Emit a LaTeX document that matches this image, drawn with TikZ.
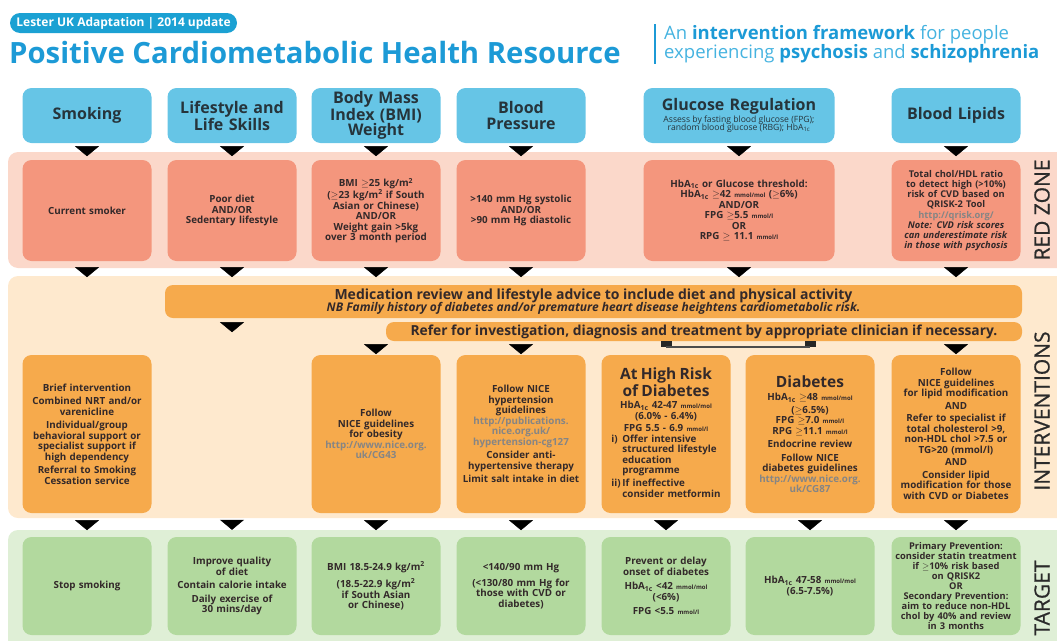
\documentclass[tikz,border=0pt]{standalone}
\usepackage{fontspec}
\setmainfont{Open Sans}
\newfontfamily\zonefont[FakeBold=0.7]{Open Sans}
\usetikzlibrary{arrows.meta,decorations.markings,calc}

\definecolor{titleblue}{HTML}{1C9AD6}
\definecolor{subblue}{HTML}{45B3E0}
\definecolor{badgeblue}{HTML}{1BA1D3}
\definecolor{headblue}{HTML}{66C5E6}
\definecolor{headtext}{HTML}{26343B}
\definecolor{redband}{HTML}{FBD8CA}
\definecolor{redbox}{HTML}{F4967D}
\definecolor{orgband}{HTML}{FEE9CE}
\definecolor{orgbox}{HTML}{F6AA4C}
\definecolor{grnband}{HTML}{DFEFD6}
\definecolor{grnbox}{HTML}{B2D99E}
\definecolor{inktext}{HTML}{33292A}
\definecolor{urlgray}{HTML}{858585}
\definecolor{zonetext}{HTML}{2A2A2A}

\newcommand{\hba}{HbA\textsubscript{1c}}
\newcommand{\smallunit}[1]{{\fontsize{6}{6}\selectfont\spaceskip=0pt #1}}
\newcommand{\weblink}[1]{{\color{urlgray}#1}}

\begin{document}
\begin{tikzpicture}[
  x=1pt, y=-1pt,
  cell/.style={rectangle, rounded corners=9pt, text=inktext, text width=121pt,
               inner xsep=4pt, inner ysep=2pt, align=center,
               font=\fontsize{9.8}{10.5}\selectfont\bfseries},
  head/.style={cell, fill=headblue, minimum height=55pt, text=headtext,
               font=\fontsize{16}{15.5}\selectfont\bfseries},
  redcell/.style={cell, fill=redbox, minimum height=101pt},
  actcell/.style={cell, fill=orgbox, minimum height=158pt},
  goalcell/.style={cell, fill=grnbox, minimum height=98pt},
  bar/.style={rectangle, rounded corners=8pt, fill=orgbox, text=inktext,
              align=center, inner sep=0pt},
  zone/.style={rotate=90, text=zonetext, inner sep=0pt,
               font=\fontsize{21}{21}\zonefont},
  flow/.style={postaction={decorate, decoration={markings,
               mark=at position #1 with {\arrow{Triangle[width=24pt,length=10pt]}}}}},
  flow/.default=13pt,
  flowend/.style={postaction={decorate, decoration={markings,
               mark=at position -7pt with {\arrow{Triangle[width=24pt,length=10pt]}}}}},
  stem/.style={line width=11pt, draw=black!85},
  bracket/.style={line width=1.8pt, draw=black!70}
]
\useasboundingbox (0,0) rectangle (1057,640);

% Bands
\fill[redband, rounded corners=10pt] (8,152) rectangle (1075,268);
\fill[orgband, rounded corners=10pt] (8,276) rectangle (1075,518);
\fill[grnband, rounded corners=10pt] (8,530) rectangle (1075,660);

% Title block
\node[rectangle, rounded corners=10pt, fill=badgeblue, text=white, minimum width=227pt,
      minimum height=20pt, inner sep=0pt, font=\fontsize{12}{12}\selectfont\bfseries]
  (badge) at (123.5,23) {Lester UK Adaptation | 2014 update};
\node[anchor=base west, inner sep=0pt, text=titleblue, font=\fontsize{29.3}{30}\selectfont\bfseries]
  (title) at (9,63) {Positive Cardiometabolic Health Resource};
\draw[titleblue, line width=1.5pt] (655,24) -- (655,64);
\node[anchor=north west, inner sep=0pt, align=left, text=subblue,
      font=\fontsize{18.5}{19.5}\selectfont] (subtitle) at (664,25)
  {An {\bfseries\color{titleblue}intervention framework} for people\\
   experiencing {\bfseries\color{titleblue}psychosis} and {\bfseries\color{titleblue}schizophrenia}};

% Zone labels
\node[zone] (zred) at (1042,210) {RED ZONE};
\node[zone] (zint) at (1042,411) {INTERVENTIONS};
\node[zone] (ztgt) at (1042,598) {TARGET};

% Headers
\node[head] (h1) at (87,115.5) {Smoking};
\node[head] (h2) at (232,115.5) {Lifestyle and\\Life Skills};
\node[head] (h3) at (376,115.5) {Body Mass\\Index (BMI)\\Weight};
\node[head] (h4) at (521,115.5) {Blood\\Pressure};
\node[head, text width=183pt] (h5) at (739,115.5)
  {Glucose Regulation\\[1pt]
   {\fontsize{8.6}{9}\selectfont\mdseries\spaceskip=0pt\begin{tabular}{@{}c@{}}
    Assess by fasting blood glucose (FPG);\\[-1.5pt]
    random blood glucose (RBG); \hba\end{tabular}}};
\node[head] (h6) at (956,115.5) {Blood Lipids};

% Red zone
\node[redcell] (r1) at (87,210.5) {Current smoker};
\node[redcell] (r2) at (232,210.5) {Poor diet\\AND/OR\\Sedentary lifestyle};
\node[redcell] (r3) at (376,210.5)
  {BMI $\geq$25 kg/m\textsuperscript{2}\\($\geq$23 kg/m\textsuperscript{2} if South\\Asian or Chinese)\\
   AND/OR\\Weight gain >5kg\\over 3 month period};
\node[redcell] (r4) at (521,210.5) {>140 mm Hg systolic\\AND/OR\\>90 mm Hg diastolic};
\node[redcell, text width=183pt] (r5) at (739,210.5)
  {\hba\ or Glucose threshold:\\\hba\ $\geq$42 \smallunit{mmol/mol} ($\geq$6\%)\\AND/OR\\
   FPG $\geq$5.5 \smallunit{mmol/l}\\OR\\RPG $\geq$ 11.1 \smallunit{mmol/l}};
\node[redcell, font=\fontsize{9.3}{10.2}\selectfont\bfseries] (r6) at (956,210.5)
  {Total chol/HDL ratio\\to detect high (>10\%)\\risk of CVD based on\\QRISK-2 Tool\\
   \weblink{http://qrisk.org/}\\\textit{Note: CVD risk scores}\\\textit{can underestimate risk}\\
   \textit{in those with psychosis}};

% Intervention bars
\node[bar, minimum width=857pt, minimum height=33pt, font=\fontsize{14}{14}\selectfont\bfseries]
  (bar1) at (593.5,301.5)
  {Medication review and lifestyle advice to include diet and physical activity\\[-2pt]
   {\fontsize{12}{12}\selectfont\itshape\spaceskip=0pt NB Family history of diabetes and/or premature heart disease heightens cardiometabolic risk.}};
\node[bar, minimum width=636pt, minimum height=19pt, font=\fontsize{13.8}{14}\selectfont\bfseries]
  (bar2) at (704,331.5)
  {Refer for investigation, diagnosis and treatment by appropriate clinician if necessary.};

% Interventions
\node[actcell] (i1) at (87,434)
  {Brief intervention\\[3pt]Combined NRT and/or\\varenicline\\[3pt]Individual/group\\
   behavioral support or\\specialist support if\\high dependency\\[3pt]Referral to Smoking\\
   Cessation service};
\node[actcell] (i3) at (376,434)
  {Follow\\NICE guidelines\\for obesity\\\weblink{http://www.nice.org.}\\\weblink{uk/CG43}};
\node[actcell] (i4) at (521,434)
  {Follow NICE\\hypertension\\guidelines\\\weblink{http://publications.}\\
   \weblink{nice.org.uk/}\\\weblink{hypertension-cg127}\\[3pt]Consider anti-\\
   hypertensive therapy\\[3pt]Limit salt intake in diet};
\node[actcell] (i5) at (666,434)
  {{\fontsize{15.5}{15}\selectfont At High Risk\\of Diabetes\par}\vspace{2pt}
   \hba\ 42-47 \smallunit{mmol/mol}\\(6.0\% - 6.4\%)\\[2pt]FPG 5.5 - 6.9 \smallunit{mmol/l}\par
   \vspace{2pt}
   \begin{tabular}{@{}l@{\,}l@{}}
   i) & Offer intensive\\ & structured lifestyle\\ & education\\ & programme\\[2pt]
   ii) & If ineffective\\ & consider metformin
   \end{tabular}};
\node[actcell] (i6) at (810,434)
  {{\fontsize{15.5}{15}\selectfont Diabetes\par}\vspace{3pt}
   \hba\ $\geq$48 \smallunit{mmol/mol}\\[2pt]($\geq$6.5\%)\\FPG $\geq$7.0 \smallunit{mmol/l}\\
   RPG $\geq$11.1 \smallunit{mmol/l}\\[3pt]Endocrine review\\[3pt]Follow NICE\\
   diabetes guidelines\\\weblink{http://www.nice.org.}\\\weblink{uk/CG87}};
\node[actcell] (i7) at (956,434)
  {Follow\\NICE guidelines\\for lipid modification\\[2pt]AND\\[2pt]Refer to specialist if\\
   total cholesterol >9,\\non-HDL chol >7.5 or\\TG>20 (mmol/l)\\[2pt]AND\\[2pt]
   Consider lipid\\modification for those\\with CVD or Diabetes};

% Targets
\node[goalcell] (t1) at (87,586) {Stop smoking};
\node[goalcell] (t2) at (232,586)
  {Improve quality\\of diet\\[3pt]Contain calorie intake\\[3pt]Daily exercise of\\30 mins/day};
\node[goalcell] (t3) at (376,586)
  {BMI 18.5-24.9 kg/m\textsuperscript{2}\\[5pt](18.5-22.9 kg/m\textsuperscript{2}\\if South Asian\\or Chinese)};
\node[goalcell] (t4) at (521,586)
  {<140/90 mm Hg\\[5pt](<130/80 mm Hg for\\those with CVD or\\diabetes)};
\node[goalcell] (t5) at (666,586)
  {Prevent or delay\\onset of diabetes\\[4pt]\hba\ <42 \smallunit{mmol/mol}\\(<6\%)\\[4pt]
   FPG <5.5 \smallunit{mmol/l}};
\node[goalcell] (t6) at (810,586) {\hba\ 47-58 \smallunit{mmol/mol}\\(6.5-7.5\%)};
\node[goalcell, text width=125pt, inner xsep=2pt, font=\fontsize{9.3}{10}\selectfont\bfseries]
  (t7) at (956,586)
  {Primary Prevention:\\consider statin treatment\\if $\geq$10\% risk based\\on QRISK2\\OR\\
   Secondary Prevention:\\aim to reduce non-HDL\\chol by 40\% and review\\in 3 months};

% Headers -> red zone
\path[flow] (h1.south) -- (r1.north);
\path[flow] (h2.south) -- (r2.north);
\path[flow] (h3.south) -- (r3.north);
\path[flow] (h4.south) -- (r4.north);
\path[flow] (h5.south) -- (r5.north);
\path[flow] (h6.south) -- (r6.north);

% Red zone -> interventions
\path[flow=16pt] (r1.south) -- (i1.north);
\path[flow=16pt] (r2.south) -- (r2.south |- bar1.north);
\path[flow=16pt] (r3.south) -- (r3.south |- bar1.north);
\path[flow=16pt] (r4.south) -- (r4.south |- bar1.north);
\path[flow=16pt] (r5.south) -- (r5.south |- bar1.north);
\path[flow=16pt] (r6.south) -- (r6.south |- bar1.north);

% Bars -> intervention boxes
\path[flow=14pt, flowend] (bar1.south -| t2.north) -- (t2.north);
\path[flow] (bar2.south -| i3.north) -- (i3.north);
\path[flow] (bar2.south -| i4.north) -- (i4.north);
\coordinate (brA) at ($(bar2.south -| i5.north)+(0,6)$);
\coordinate (brB) at ($(bar2.south -| i6.north)+(0,6)$);
\draw[stem] (bar2.south -| brA) -- (brA);
\draw[stem] (bar2.south -| brB) -- (brB);
\draw[bracket] (brA) -- (brB);
\path[flow=8pt] (brA) -- (i5.north);
\path[flow=8pt] (brB) -- (i6.north);
\path[flow] (bar2.south -| i7.north) -- (i7.north);

% Interventions -> targets
\path[flow=17pt] (i1.south) -- (t1.north);
\path[flow=17pt] (i3.south) -- (t3.north);
\path[flow=17pt] (i4.south) -- (t4.north);
\path[flow=17pt] (i5.south) -- (t5.north);
\path[flow=17pt] (i6.south) -- (t6.north);
\path[flow=17pt] (i7.south) -- (t7.north);

\end{tikzpicture}
\end{document}
